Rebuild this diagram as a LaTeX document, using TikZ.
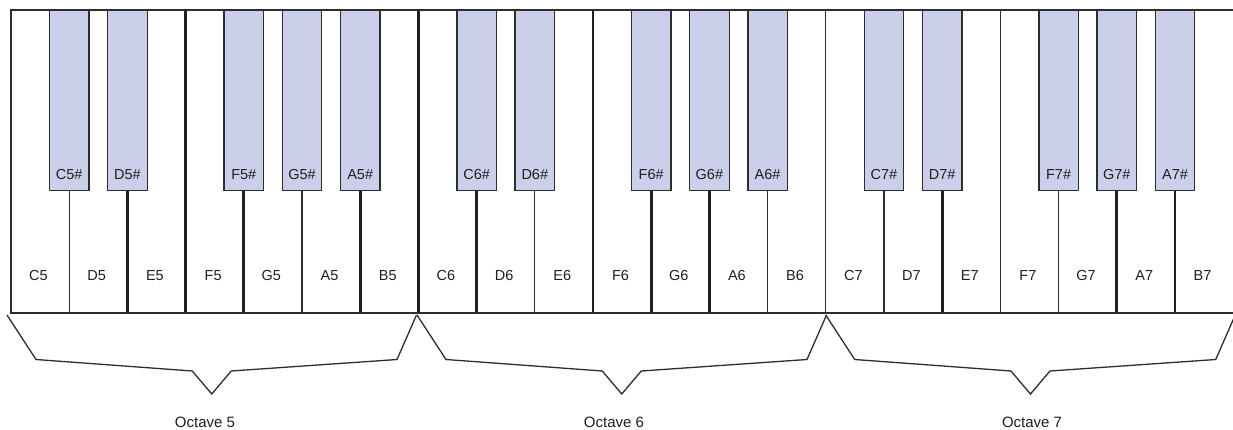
\documentclass[tikz,border=0pt]{standalone}
\usepackage{fontspec}
\setmainfont{Liberation Sans}
\definecolor{sharpfill}{RGB}{204,207,233}
\definecolor{ink}{RGB}{45,45,45}
\definecolor{lettering}{RGB}{30,30,35}
\begin{document}
\begin{tikzpicture}[x=1pt,y=-1pt,
  sharpkey/.style={draw=ink, line width=1.3pt, fill=sharpfill, minimum width=39.5pt,
    minimum height=180pt, inner sep=0pt, anchor=north},
  keytext/.style={text=lettering, font=\fontsize{14.5}{16}\selectfont, inner sep=0pt},
  octtext/.style={text=lettering, font=\fontsize{15}{17}\selectfont, inner sep=0pt},
  thn/.style={line width=1.2pt, draw=ink},
  thk/.style={line width=2.8pt, draw=black!88},
  frame/.style={line width=1.4pt, draw=ink},
  brace/.style={line width=1.3pt, draw=ink, line join=miter}]
\useasboundingbox (0,0) rectangle (1233,429);

% keyboard frame
\coordinate (kbTL) at (11,10);
\coordinate (kbBL) at (11,313);
\coordinate (kbTR) at (1234,10);
\coordinate (kbBR) at (1234,313);

% full-height separators (E|F and B|C)
\foreach \k/\st in {3/thk,7/thk,10/thk,14/thn,17/thn}{
  \coordinate (top\k) at ({11+58.2*\k},10);
  \draw[\st] (top\k) -- (top\k |- kbBL);
}

% white key names
\foreach \i/\nm in {0/C5,1/D5,2/E5,3/F5,4/G5,5/A5,6/B5,
                    7/C6,8/D6,9/E6,10/F6,11/G6,12/A6,13/B6,
                    14/C7,15/D7,16/E7,17/F7,18/G7,19/A7,20/B7}{
  \node[keytext] (w\nm) at ({11+58.2*\i+27.5},276) {\nm};
}

% black keys with the separator below each one
\foreach \k/\st/\nm in {1/thn/C5,2/thk/D5,4/thk/F5,5/thn/G5,6/thk/A5,
                        8/thk/C6,9/thn/D6,11/thk/F6,12/thk/G6,13/thn/A6,
                        15/thn/C7,16/thk/D7,18/thn/F7,19/thk/G7,20/thk/A7}{
  \node[sharpkey] (s\nm) at ({11+58.2*\k},10) {};
  \draw[\st] (s\nm.south) -- (s\nm.south |- kbBL);
  \node[keytext] (t\nm) at ([yshift=17pt]s\nm.south) {\nm\#};
}

\draw[frame] (kbTR) -- (kbTL) -- (kbBL) -- (kbBR);

% octave braces
\foreach \o/\L/\tx in {5/7/205,6/417/614,7/825.7/1032}{
  \pgfmathsetmacro{\M}{\L+204.75}
  \pgfmathsetmacro{\R}{\L+409.5}
  \coordinate (tip\o) at (\M,394);
  \draw[brace] (\L,315) -- ({\L+29},359.5) -- ({\M-19.5},371) -- (tip\o)
    -- ({\M+19.5},371) -- ({\R-19.5},359.5) -- (\R,315);
  \node[octtext] (oct\o) at (\tx,422) {Octave \o};
}
\end{tikzpicture}
\end{document}
